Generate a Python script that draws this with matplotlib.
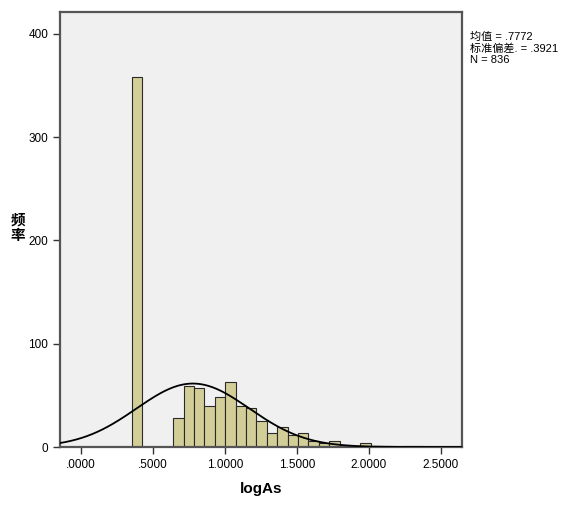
import numpy as np
import matplotlib
matplotlib.use("Agg")
import matplotlib.pyplot as plt

plt.rcParams['font.family'] = ['Liberation Sans', 'Noto Sans CJK SC', 'DejaVu Sans']

# histogram of logAs (bin width)
bin_start = 0.352
bin_width = 0.0722
counts = [358, 0, 0, 0, 28, 59, 57, 40, 48, 63, 40, 38, 25, 14, 19, 12,
          14, 6, 4, 6, 2, 1, 4, 1, 1, 0, 1, 1, 0, 0, 0, 0]

# summary stats shown in the box
mean_val = 0.7772
sd_val = 0.3921
n_val = 836

x_ticks = [0.0, 0.5, 1.0, 1.5, 2.0, 2.5]
x_ticklabels = [".0000", ".5000", "1.0000", "1.5000", "2.0000", "2.5000"]
y_ticks = [0, 100, 200, 300, 400]

fig = plt.figure(figsize=(5.73, 5.08), dpi=100)
ax = fig.add_axes([60 / 573, 61 / 508, 402 / 573, 435 / 508])
ax.set_facecolor("#F0F0F0")

lefts = bin_start + bin_width * np.arange(len(counts))
ax.bar(lefts, counts, width=bin_width, align="edge", color="#D3CE97",
       edgecolor="#2a2a2a", linewidth=0.8, zorder=2)

# fitted normal curve
xs = np.linspace(-0.2, 2.7, 400)
pdf = np.exp(-0.5 * ((xs - mean_val) / sd_val) ** 2) / (sd_val * np.sqrt(2 * np.pi))
ax.plot(xs, n_val * bin_width * pdf, color="black", linewidth=1.3, zorder=3)

ax.set_xlim(-0.146, 2.646)
ax.set_ylim(0, 421)
ax.set_xticks(x_ticks)
ax.set_xticklabels(x_ticklabels)
ax.set_yticks(y_ticks)
ax.tick_params(direction="out", length=5, width=1, labelsize=8.5, color="#333333")

for s in ax.spines.values():
    s.set_color("#555555")
    s.set_linewidth(1.6)

ax.set_xlabel("logAs", fontsize=11, fontweight="bold", labelpad=8)
fig.text(18 / 573, 1 - 228 / 508, "频\n率", fontsize=10.5, fontweight="bold",
         ha="center", va="center", linespacing=1.1)

fig.text(470 / 573, 1 - 32 / 508,
         "均值 = .7772\n标准偏差. = .3921\nN = 836",
         fontsize=8, ha="left", va="top", linespacing=1.12)

fig.savefig("out.png", dpi=100)
